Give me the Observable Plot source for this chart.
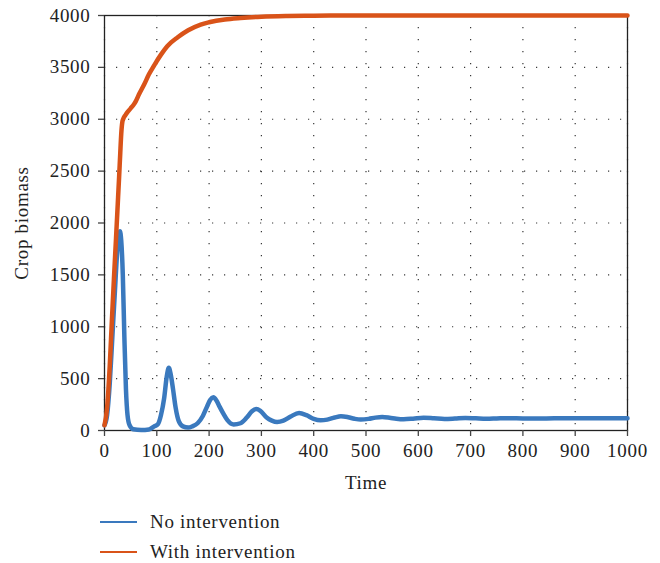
<!DOCTYPE html>
<html>
<head>
<meta charset="utf-8">
<script src="https://cdn.jsdelivr.net/npm/d3@7"></script>
<script src="https://cdn.jsdelivr.net/npm/@observablehq/plot@0.6"></script>
<style>
  html, body { margin: 0; padding: 0; background: #fff; }
  #chart { width: 660px; font-family: "Liberation Serif", "DejaVu Serif", serif; }
  .legend { position: relative; height: 63px; }
  .legend .row { position: absolute; left: 100px; display: flex; align-items: center; height: 24px;
    font-size: 19px; letter-spacing: 0.7px; color: #222; }
  .legend .row svg { margin-right: 13px; }
</style>
</head>
<body>
<div id="chart"></div>
<script>
// Crop biomass over time, without and with intervention
const timeNo = [0, 5, 10, 15, 20, 24, 27, 29.5, 32, 35, 38, 41, 44, 48, 55, 70, 85, 95, 102, 108,
  114, 119, 123, 127, 131, 136, 142, 150, 160, 168, 178, 188, 196, 202, 208, 214, 220, 227, 235, 247,
  260, 272, 282, 290, 298, 310, 320, 330, 342, 356, 372, 386, 400, 413, 426, 440, 452, 466, 478, 490,
  505, 518, 531, 545, 558, 572, 590, 610, 630, 650, 670, 690, 710, 730, 750, 770, 800, 830, 860, 900,
  950, 1000];
const cropNo = [50, 150, 450, 900, 1350, 1700, 1870, 1920, 1830, 1500, 900, 400, 150, 50, 12, 5, 10, 40, 60, 150,
  310, 520, 605, 530, 400, 220, 90, 40, 28, 40, 70, 140, 230, 295, 320, 290, 230, 165, 100, 58,
  70, 125, 185, 207, 190, 125, 95, 82, 95, 135, 168, 148, 112, 98, 105, 125, 138, 128, 113, 105,
  112, 124, 130, 123, 113, 108, 114, 124, 118, 111, 115, 121, 117, 113, 116, 119, 116, 115, 117, 117,
  117, 117];

const timeWith = [0, 5, 10, 14, 18, 22, 24, 26, 28, 30, 32, 34, 36, 40, 45, 50, 55, 60, 66, 76,
  85, 95, 108, 120, 140, 160, 184, 200, 230, 260, 300, 350, 400, 500, 700, 1000];
const cropWith = [50, 220, 620, 1050, 1460, 1850, 2050, 2250, 2450, 2660, 2860, 2970, 3005, 3040, 3075, 3105, 3135, 3175, 3240, 3337,
  3433, 3520, 3623, 3704, 3790, 3858, 3913, 3935, 3962, 3976, 3988, 3995, 3998, 4000, 4000, 4000];

const seriesNames = ["No intervention", "With intervention"];
const seriesColors = ["#3a79be", "#d95319"];

const xTicks = d3.range(0, 1001, 100);
const yTicks = d3.range(0, 4001, 500);

const noData = timeNo.map((t, i) => ({t, v: cropNo[i]}));
const withData = timeWith.map((t, i) => ({t, v: cropWith[i]}));

const plot = Plot.plot({
  width: 660,
  height: 500,
  marginTop: 15,
  marginBottom: 70,
  marginLeft: 104,
  marginRight: 33,
  style: { fontFamily: "Liberation Serif, DejaVu Serif, serif", fontSize: "19px", letterSpacing: "0.7px",
    color: "#222", background: "#fff" },
  x: { domain: [0, 1000] },
  y: { domain: [0, 4000] },
  marks: [
    Plot.gridX(xTicks, { stroke: "#222", strokeOpacity: 0.9, strokeWidth: 1.2, strokeDasharray: "1.2,10.8" }),
    Plot.gridY(yTicks, { stroke: "#222", strokeOpacity: 0.9, strokeWidth: 1.2, strokeDasharray: "1.2,10.8" }),
    Plot.frame({ stroke: "#222", strokeWidth: 1.3 }),
    Plot.axisX({ ticks: xTicks, tickFormat: d => String(d), tickSize: 6, tickPadding: 7, stroke: "#444", strokeWidth: 1.3,
      label: "Time", labelAnchor: "center", labelArrow: "none", labelOffset: 58 }),
    Plot.axisY({ ticks: yTicks, tickFormat: d => String(d), tickSize: 6, tickPadding: 8, stroke: "#444", strokeWidth: 1.3,
      label: "Crop biomass", labelAnchor: "center", labelArrow: "none", labelOffset: 90 }),
    Plot.line(noData, { x: "t", y: "v", stroke: seriesColors[0], strokeWidth: 4.5, curve: "monotone-x" }),
    Plot.line(withData, { x: "t", y: "v", stroke: seriesColors[1], strokeWidth: 4.5, curve: "monotone-x" })
  ]
});

const chart = document.getElementById("chart");
chart.appendChild(plot);

// Legend beneath the plot
const legend = document.createElement("div");
legend.className = "legend";
seriesNames.forEach((name, i) => {
  const row = document.createElement("div");
  row.className = "row";
  row.style.top = (10 + i * 30) + "px";
  row.innerHTML = `<svg width="37" height="4"><line x1="0" x2="37" y1="2" y2="2" stroke="${seriesColors[i]}" stroke-width="2"/></svg><span>${name}</span>`;
  legend.appendChild(row);
});
chart.appendChild(legend);
</script>
</body>
</html>
